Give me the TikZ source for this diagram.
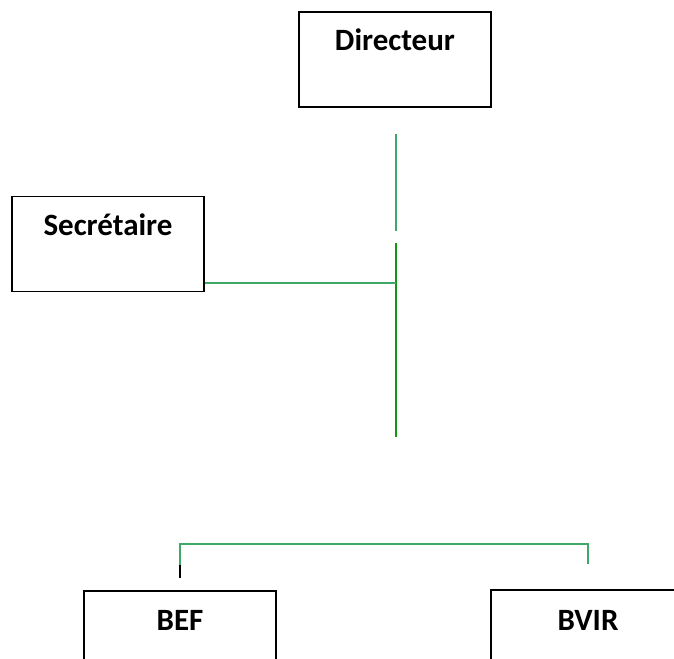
\documentclass[tikz,border=0pt]{standalone}
\usepackage{fontspec}
\setmainfont{Carlito}
\usepackage{tikz}
\definecolor{linkgreen}{RGB}{62,168,104}
\definecolor{trunkgreen}{RGB}{20,150,20}
\tikzset{
  postbox/.style={draw,line width=1.6pt,rectangle,inner sep=0pt,minimum width=192pt,
    text height=39pt,text depth=56pt,font=\bfseries\fontsize{31}{33}\selectfont},
  lightlink/.style={draw=linkgreen,line width=1.3pt},
  darklink/.style={draw=trunkgreen,line width=1.5pt}
}

\begin{document}
\begin{tikzpicture}[x=1pt,y=-1pt]
        \useasboundingbox (0,0) rectangle (674,658);
        \clip (0,0) rectangle (674,658);

        \coordinate (dir) at (395,59.5);
        \coordinate (sec) at (108,244);
        \coordinate (bef) at (180,638.5);
        \coordinate (bvir) at (588,638.5);

        \node[postbox] (Directeur) at (dir) {Directeur};
        \node[postbox] (Secretaire) at (sec) {Secrétaire};
        \node[postbox] (BEF) at (bef) {BEF};
        \node[postbox,draw=none] (BVIR) at (bvir) {BVIR};
        % frame of BVIR runs past the right edge
        \draw[line width=1.6pt] (BVIR.south west) |- ([xshift=40pt]BVIR.north east);

        \coordinate (dirlink) at (396,134);
        \coordinate (dirgap) at (396,231);
        \coordinate (trunktop) at (396,243);
        \coordinate (trunkend) at (396,437);
        \coordinate (secjoin) at (396,283);
        \coordinate (befup) at (180,544);
        \coordinate (bvirup) at (588,544);
        \coordinate (befmid) at (180,565);
        \coordinate (beftip) at (180,578);
        \coordinate (virtip) at (588,564);

        \draw[lightlink] (dirlink) -- (dirgap);
        \draw[darklink] (trunktop) -- (trunkend);
        \draw[lightlink] (secjoin -| Secretaire.east) -- (secjoin);
        \draw[lightlink] (befmid) -- (befup) -- (bvirup) -- (virtip);
        \draw[line width=1.3pt] (befmid) -- (beftip);
    \end{tikzpicture}
\end{document}
